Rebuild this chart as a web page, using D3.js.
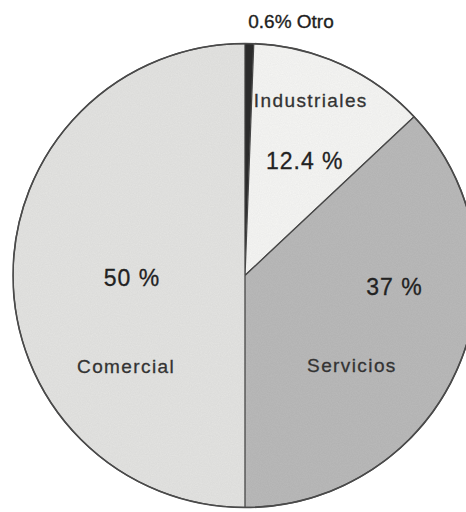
<!DOCTYPE html>
<html>
<head>
<meta charset="utf-8">
<script src="https://cdn.jsdelivr.net/npm/d3@7/dist/d3.min.js"></script>
<style>
  html, body { margin: 0; padding: 0; background: #ffffff; }
  svg { display: block; }
  text { font-family: "Liberation Sans", Arial, Helvetica, sans-serif; fill: #2a2a2a; }
</style>
</head>
<body>
<script>
// ---- data ----
const categories = ["Otro", "Industriales", "Servicios", "Comercial"];
const values = [0.6, 12.4, 37, 50];
const valueLabels = ["0.6%", "12.4 %", "37 %", "50 %"];
const colors = ["#2b2b2b", "#f6f6f4", "#bababa", "#e4e4e2"];

// ---- layout ----
const W = 466, H = 512;
const cx = 245, cy = 275.5, R = 232;

const svg = d3.select("body").append("svg").attr("width", W).attr("height", H);

// subtle paper-like texture
const defs = svg.append("defs");
const filt = defs.append("filter").attr("id", "grain").attr("x", 0).attr("y", 0).attr("width", 1).attr("height", 1);
filt.append("feTurbulence").attr("type", "fractalNoise").attr("baseFrequency", 0.9).attr("numOctaves", 2).attr("seed", 3).attr("result", "noise");
filt.append("feColorMatrix").attr("in", "noise").attr("type", "matrix")
  .attr("values", "0 0 0 0 0  0 0 0 0 0  0 0 0 0 0  0 0 0 0.10 0").attr("result", "alphaNoise");
filt.append("feComposite").attr("in", "alphaNoise").attr("in2", "SourceGraphic").attr("operator", "in").attr("result", "clipped");
filt.append("feMerge").selectAll("feMergeNode").data(["SourceGraphic", "clipped"]).join("feMergeNode").attr("in", d => d);

const data = categories.map((c, i) => ({ name: c, value: values[i], label: valueLabels[i], color: colors[i] }));

const pie = d3.pie().sort(null).value(d => d.value).startAngle(0).endAngle(2 * Math.PI);
const arcs = pie(data);
const arc = d3.arc().innerRadius(0).outerRadius(R);

const g = svg.append("g").attr("transform", `translate(${cx},${cy})`);

g.selectAll("path.slice")
  .data(arcs)
  .join("path")
  .attr("class", "slice")
  .attr("d", arc)
  .attr("fill", d => d.data.color)
  .attr("filter", d => d.data.name === "Otro" ? null : "url(#grain)")
  .attr("stroke", "#4a4a4a")
  .attr("stroke-width", d => d.data.name === "Otro" ? 0.8 : 1.3)
  .attr("stroke-linejoin", "round");

// outer outline
g.append("circle").attr("r", R).attr("fill", "none").attr("stroke", "#4a4a4a").attr("stroke-width", 1.6);

// label placement: polar (degrees clockwise from top, radius)
const labelLayout = {
  "Industriales": { name: [20.6, 187], pct: [27.6, 129] },
  "Servicios":    { name: [130.2, 140], pct: [94.4, 150] },
  "Comercial":    { name: [232.7, 149.5], pct: [268.7, 113] }
};
function polar([deg, r]) {
  const a = deg * Math.PI / 180;
  return [r * Math.sin(a), -r * Math.cos(a)];
}

arcs.forEach(d => {
  const L = labelLayout[d.data.name];
  if (!L) return;
  const [nx, ny] = polar(L.name);
  g.append("text").attr("x", nx).attr("y", ny).attr("text-anchor", "middle")
    .attr("dominant-baseline", "central")
    .style("font-size", "19px").style("letter-spacing", "1.4px")
    .style("fill", "#333").style("stroke", "#333").style("stroke-width", "0.3px")
    .text(d.data.name);
  const [px, py] = polar(L.pct);
  g.append("text").attr("x", px).attr("y", py).attr("text-anchor", "middle")
    .attr("dominant-baseline", "central")
    .style("font-size", "23px").style("letter-spacing", "1px")
    .style("fill", "#222").style("stroke", "#222").style("stroke-width", "0.3px")
    .text(d.data.label);
});

// Otro label above the top of the pie
const otro = arcs.find(d => d.data.name === "Otro");
svg.append("text")
  .attr("x", cx + 46)
  .attr("y", cy - R - 16)
  .attr("text-anchor", "middle")
  .style("font-size", "19px")
  .style("fill", "#1e1e1e")
  .style("stroke", "#1e1e1e")
  .style("stroke-width", "0.35px")
  .text(`${otro.data.label} ${otro.data.name}`);
</script>
</body>
</html>
